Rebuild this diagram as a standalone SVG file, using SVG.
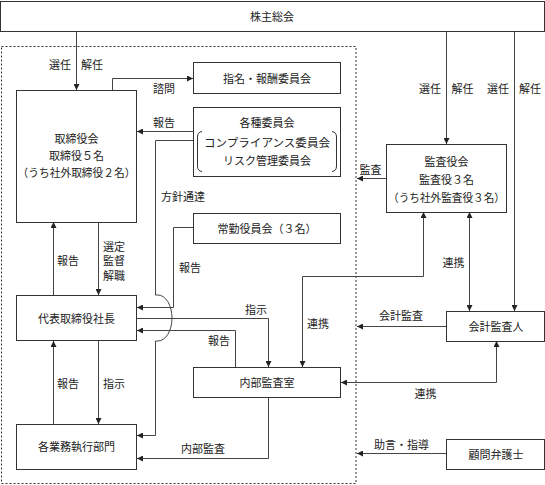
<svg xmlns="http://www.w3.org/2000/svg" width="545" height="485" viewBox="0 0 545 485">
<defs>
<marker id="ah" viewBox="0 0 6 6" refX="6" refY="3" markerWidth="6" markerHeight="6" markerUnits="userSpaceOnUse" orient="auto-start-reverse">
<path d="M0,0 L6,3 L0,6 z" fill="#222"/>
</marker>
<style>
text{font-family:"Noto Sans CJK JP","Noto Sans CJK SC",sans-serif;font-size:11px;fill:#222;text-anchor:middle;dominant-baseline:central}
.box{fill:#fff;stroke:#333;stroke-width:1}
.ln{fill:none;stroke:#444;stroke-width:1}
.ar{marker-end:url(#ah)}
.ar2{marker-start:url(#ah);marker-end:url(#ah)}
</style>
</defs>
<rect width="545" height="485" fill="#fff"/>
<rect x="1.5" y="46.5" width="354.5" height="437" fill="none" stroke="#333" stroke-dasharray="2,2"/>

<g id="connectors">
<path class="ln ar" d="M76.5,31 V90"/>
<path class="ln ar" d="M112.5,90 V78.5 H193"/>
<path class="ln ar" d="M193,131.5 H137"/>
<path class="ln ar" d="M193,140.5 H155.5 V295 H158 A14,23 0 0 1 158,341 H155.5 V435.5 H137"/>
<path class="ln ar" d="M193,227.5 H173.5 V307.5 H137"/>
<path class="ln ar" d="M53.5,295 V222"/>
<path class="ln ar" d="M98.5,222 V295"/>
<path class="ln ar" d="M137,318.5 H268.5 V367"/>
<path class="ln ar" d="M235.5,367 V330.5 H137"/>
<path class="ln ar2" d="M423.5,212 V276.5 H302.5 V367"/>
<path class="ln ar" d="M268.5,397 V458.5 H137"/>
<path class="ln ar" d="M98.5,341 V424"/>
<path class="ln ar" d="M53.5,424 V341"/>
<path class="ln ar" d="M446.5,31 V144"/>
<path class="ln ar" d="M386,178.5 H357"/>
<path class="ln ar2" d="M469.5,212 V311"/>
<path class="ln ar" d="M514.5,31 V311"/>
<path class="ln ar" d="M446,326.5 H357"/>
<path class="ln ar2" d="M496.5,341 V382.5 H341"/>
<path class="ln ar" d="M446,453.5 H357"/>
</g>

<g id="labels">
<text x="60" y="64">選任</text>
<text x="92" y="64">解任</text>
<text x="164" y="88">諮問</text>
<text x="164" y="122">報告</text>
<text x="183" y="196">方針通達</text>
<text x="190" y="267">報告</text>
<text x="68" y="260">報告</text>
<text x="114" y="245.5">選定</text>
<text x="114" y="260">監督</text>
<text x="114" y="274.5">解職</text>
<text x="256" y="309">指示</text>
<text x="219" y="340">報告</text>
<text x="318" y="322.5">連携</text>
<text x="68" y="383">報告</text>
<text x="114" y="383">指示</text>
<text x="203" y="448">内部監査</text>
<text x="370.5" y="169">監査</text>
<text x="453.5" y="262">連携</text>
<text x="401" y="315">会計監査</text>
<text x="425.5" y="393">連携</text>
<text x="401.5" y="444">助言・指導</text>
<text x="430" y="88">選任</text>
<text x="462.5" y="88">解任</text>
<text x="498" y="88">選任</text>
<text x="530" y="88">解任</text>
</g>

<g id="shareholders">
<rect class="box" x="0.5" y="1.5" width="544" height="30"/>
<text x="272" y="16">株主総会</text>
</g>
<g id="board">
<rect class="box" x="16.5" y="90.5" width="120" height="132"/>
<text x="76.5" y="138">取締役会</text>
<text x="76.5" y="155">取締役５名</text>
<text x="76.5" y="172" textLength="118" lengthAdjust="spacingAndGlyphs">（うち社外取締役２名）</text>
</g>
<g id="nomination">
<rect class="box" x="193.5" y="62.5" width="147" height="31"/>
<text x="267" y="78">指名・報酬委員会</text>
</g>
<g id="committees">
<rect class="box" x="193.5" y="107.5" width="147" height="69"/>
<text x="267" y="122">各種委員会</text>
<text x="267" y="142" textLength="126" lengthAdjust="spacingAndGlyphs">コンプライアンス委員会</text>
<text x="267" y="160">リスク管理委員会</text>
<path d="M202,131.5 Q197.5,132 197.5,137 V166 Q197.5,171 202,171.5" fill="none" stroke="#333"/>
<path d="M332,131.5 Q336.5,132 336.5,137 V166 Q336.5,171 332,171.5" fill="none" stroke="#333"/>
</g>
<g id="fulltime">
<rect class="box" x="193.5" y="213.5" width="147" height="30"/>
<text x="267" y="228">常勤役員会（３名）</text>
</g>
<g id="president">
<rect class="box" x="16.5" y="295.5" width="120" height="45"/>
<text x="76.5" y="318">代表取締役社長</text>
</g>
<g id="internalaudit">
<rect class="box" x="193.5" y="367.5" width="147" height="30"/>
<text x="267" y="382">内部監査室</text>
</g>
<g id="divisions">
<rect class="box" x="16.5" y="424.5" width="120" height="45"/>
<text x="76.5" y="446">各業務執行部門</text>
</g>
<g id="auditboard">
<rect class="box" x="386.5" y="144.5" width="120" height="68"/>
<text x="446.5" y="161">監査役会</text>
<text x="446.5" y="179">監査役３名</text>
<text x="446.5" y="197" textLength="117" lengthAdjust="spacingAndGlyphs">（うち社外監査役３名）</text>
</g>
<g id="accountant">
<rect class="box" x="446.5" y="311.5" width="98" height="30"/>
<text x="496" y="326">会計監査人</text>
</g>
<g id="lawyer">
<rect class="box" x="446.5" y="439.5" width="98" height="30"/>
<text x="496" y="454">顧問弁護士</text>
</g>
</svg>
